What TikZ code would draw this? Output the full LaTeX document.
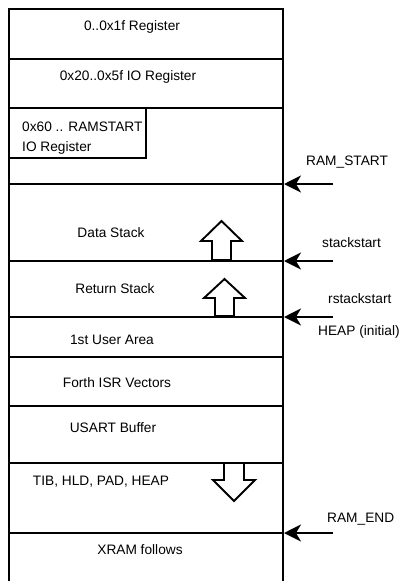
\documentclass[tikz,border=0pt]{standalone}
\usepackage{fontspec}
\setmainfont{Liberation Sans}
\usetikzlibrary{arrows.meta}
\begin{document}
\begin{tikzpicture}[x=1pt,y=-1pt,
  wall/.style={line width=1.9pt},
  ptr/.style={line width=1.9pt,-{Stealth[length=17pt,width=17pt,inset=5pt]}},
  blockarrow/.style={line width=1.9pt,fill=white,line join=miter},
  lbl/.style={inner sep=0pt,anchor=base,font=\fontsize{13.7}{16}\selectfont},
  lblw/.style={lbl,anchor=base west}]
\useasboundingbox (0,0) rectangle (400,581);
% outer walls
\draw[wall] (9,9) -- (9,581);
\draw[wall] (283,9) -- (283,581);
% separators
\foreach \yy in {9,59,108,184,261,317,357,406,463,533}
  \draw[wall] (8.1,\yy) -- (284,\yy);
% inner box
\draw[wall] (9,158) -- (146,158) -- (146,108);
% texts
\node[lbl] (r0) at (132,30) {0..0x1f Register};
\node[lbl] (r1) at (128,80) {0x20..0x5f IO Register};
\node[lblw] (r2a) at (22,131) {0x60 .. RAMSTART};
\node[lblw] (r2b) at (22,151) {IO Register};
\node[lbl] (ds) at (111,237) {Data Stack};
\node[lbl] (rs) at (115,293) {Return Stack};
\node[lbl] (ua) at (112,344) {1st User Area};
\node[lbl] (isr) at (117,387) {Forth ISR Vectors};
\node[lbl] (us) at (113,432) {USART Buffer};
\node[lbl] (tib) at (101,485) {TIB, HLD, PAD, HEAP};
\node[lbl] (xr) at (140,554) {XRAM follows};
\node[lblw] (lrs) at (306,165) {RAM\_START};
\node[lblw] (lss) at (322,247) {stackstart};
\node[lblw] (lrss) at (328,303) {rstackstart};
\node[lblw] (lheap) at (318,335) {HEAP (initial)};
\node[lblw] (lre) at (327,522) {RAM\_END};
% pointer arrows
\coordinate (ramstart) at (284,184);
\coordinate (ramstartsrc) at (333,184);
\coordinate (stackstart) at (284,261);
\coordinate (stackstartsrc) at (333,261);
\coordinate (rstackstart) at (284,317);
\coordinate (rstackstartsrc) at (333,317);
\coordinate (ramend) at (284,533);
\coordinate (ramendsrc) at (333,533);
\draw[ptr] (ramstartsrc) -- (ramstart);
\draw[ptr] (stackstartsrc) -- (stackstart);
\draw[ptr] (rstackstartsrc) -- (rstackstart);
\draw[ptr] (ramendsrc) -- (ramend);
% block arrows
\draw[blockarrow] (212,260) -- (212,241) -- (201,241) -- (221.5,221) -- (242,241) -- (231,241) -- (231,260) -- cycle;
\draw[blockarrow] (215,316) -- (215,298) -- (204,298) -- (224.5,279) -- (245,298) -- (234,298) -- (234,316) -- cycle;
\draw[blockarrow] (224,464) -- (224,480) -- (213,480) -- (234,501) -- (255,480) -- (244,480) -- (244,464);
\end{tikzpicture}
\end{document}
